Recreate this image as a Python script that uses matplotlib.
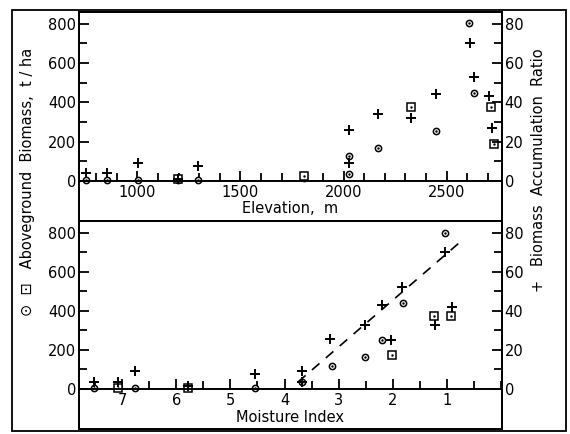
import matplotlib
matplotlib.use("Agg")
import matplotlib.pyplot as plt
from matplotlib.ticker import MultipleLocator, FixedLocator
from matplotlib.patches import Rectangle

plt.rcParams['font.family'] = ['DejaVu Sans']

# ---- top panel: elevation (m) ----
elev_circ = [752, 854, 1005, 1195, 1292, 1810, 2028, 2028, 2166, 2446, 2608, 2633]
biom_circ = [5, 5, 5, 5, 5, 15, 35, 127, 168, 253, 805, 446]
elev_sq = [1195, 1810, 2328, 2716, 2731]
biom_sq = [10, 25, 375, 375, 187]
elev_plus = [752, 854, 1005, 1195, 1292, 2028, 2028, 2166, 2328, 2446, 2613, 2633, 2707, 2721]
ratio_plus = [4, 4, 9, 1, 7.5, 26, 9, 34, 32, 44, 70, 53, 43, 27]

# ---- bottom panel: moisture index ----
mi_circ = [7.52, 6.76, 4.54, 3.67, 3.13, 2.52, 2.19, 1.81, 1.04]
mbiom_circ = [5, 5, 5, 35, 117, 163, 250, 438, 800]
mi_sq = [7.07, 5.78, 2.02, 1.24, 0.93]
mbiom_sq = [5, 5, 173, 372, 372]
mi_plus = [7.52, 7.07, 6.76, 5.78, 4.54, 3.67, 3.67, 3.15, 2.52, 2.2, 2.04, 1.83, 1.22, 1.04, 0.91]
mratio_plus = [3.5, 3.5, 9, 1.5, 7.5, 9, 3.5, 25.5, 33, 43, 25, 52, 33, 70, 42]

# dashed fit line (moisture index, biomass)
fit_mi = [3.75, 0.75]
fit_biom = [36, 753]

fig = plt.figure(figsize=(5.7, 4.34), dpi=100)
ax1 = fig.add_axes([0.1386, 0.4908, 0.742, 0.4816])
ax2 = fig.add_axes([0.1386, 0.0115, 0.742, 0.4793])

fig.add_artist(Rectangle((0.021, 0.007), 0.972, 0.970, transform=fig.transFigure,
                         fill=False, lw=1.3, color='black'))

ylim = (-205, 860)
ms = dict(color='black', linestyle='none')


def style(ax, rax):
    ax.set_ylim(*ylim)
    rax.set_ylim(ylim[0] / 10, ylim[1] / 10)
    ax.spines['bottom'].set_position(('data', 0))
    for s in ax.spines.values():
        s.set_linewidth(1.4)
    for s in rax.spines.values():
        s.set_linewidth(1.4)
    ax.yaxis.set_major_locator(FixedLocator([0, 200, 400, 600, 800]))
    ax.yaxis.set_minor_locator(FixedLocator([100, 300, 500, 700]))
    rax.yaxis.set_major_locator(FixedLocator([0, 20, 40, 60, 80]))
    rax.yaxis.set_minor_locator(FixedLocator([10, 30, 50, 70]))
    ax.tick_params(axis='both', which='both', direction='in', labelsize=10.5, width=1.3)
    ax.tick_params(axis='both', which='major', length=7)
    ax.tick_params(axis='both', which='minor', length=6)
    ax.tick_params(axis='x', pad=3)
    ax.tick_params(axis='y', pad=2)
    rax.tick_params(axis='y', which='both', direction='in', labelsize=10.5, width=1.3, pad=2)
    rax.tick_params(axis='y', which='major', length=7)
    rax.tick_params(axis='y', which='minor', length=6)


# top panel
rax1 = ax1.twinx()
style(ax1, rax1)
ax1.set_xlim(717, 2768)
ax1.xaxis.set_major_locator(FixedLocator([1000, 1500, 2000, 2500]))
ax1.xaxis.set_minor_locator(MultipleLocator(100))
ax1.plot(elev_circ, biom_circ, marker='o', ms=4.5, mfc='white', mew=1.1, **ms)
ax1.plot(elev_circ, biom_circ, marker='.', ms=1.5, **ms)
ax1.plot(elev_sq, biom_sq, marker='s', ms=5.5, mfc='white', mew=1.1, **ms)
ax1.plot(elev_sq, biom_sq, marker='.', ms=1.5, **ms)
rax1.plot(elev_plus, ratio_plus, marker='+', ms=7, mew=1.4, **ms)
ax1.set_xlabel('Elevation,  m', fontsize=10.5, labelpad=1)

# bottom panel
rax2 = ax2.twinx()
style(ax2, rax2)
ax2.set_xlim(7.8, -0.02)
ax2.xaxis.set_major_locator(FixedLocator([1, 2, 3, 4, 5, 6, 7]))
ax2.xaxis.set_minor_locator(MultipleLocator(0.5))
ax2.plot(mi_circ, mbiom_circ, marker='o', ms=4.5, mfc='white', mew=1.1, **ms)
ax2.plot(mi_circ, mbiom_circ, marker='.', ms=1.5, **ms)
ax2.plot(mi_sq, mbiom_sq, marker='s', ms=5.5, mfc='white', mew=1.1, **ms)
ax2.plot(mi_sq, mbiom_sq, marker='.', ms=1.5, **ms)
rax2.plot(mi_plus, mratio_plus, marker='+', ms=7, mew=1.4, **ms)
ax2.plot(fit_mi, fit_biom, color='black', lw=1.2, linestyle=(0, (6, 5)))
ax2.set_xlabel('Moisture Index', fontsize=10.5, labelpad=1)

fig.text(0.049, 0.58, '\u2299  \u22a1   Aboveground  Biomass,  t / ha', rotation=90,
         ha='center', va='center', fontsize=10.5)
fig.text(0.945, 0.608, '+   Biomass  Accumulation  Ratio', rotation=90,
         ha='center', va='center', fontsize=10.5)

fig.savefig('out.png', dpi=100)
